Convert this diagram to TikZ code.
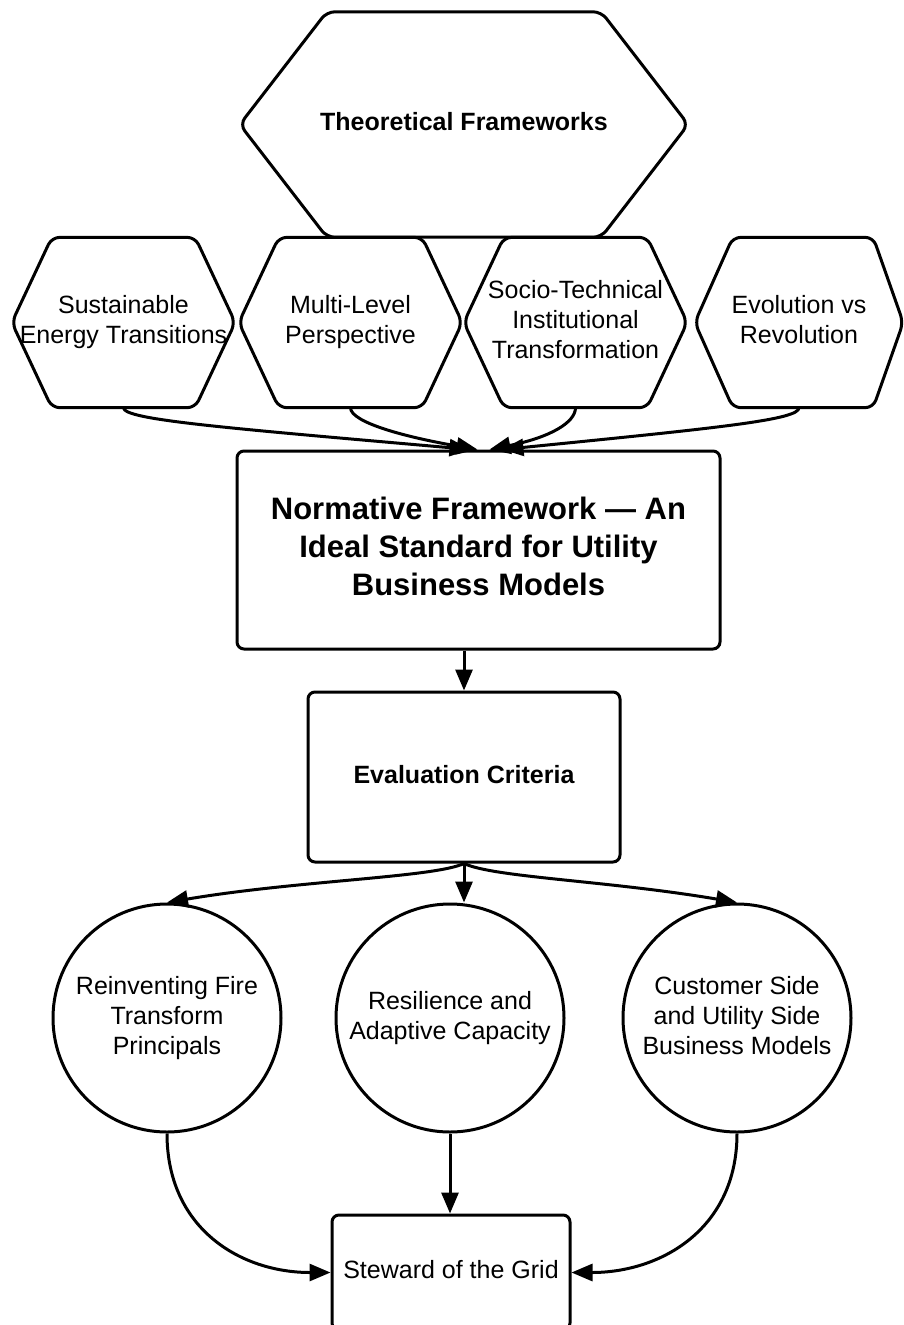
\documentclass[tikz,border=0pt]{standalone}
\usepackage{fontspec}
\setmainfont{Liberation Sans}
\usetikzlibrary{arrows.meta}
\newcommand\uptext[2]{\raisebox{#1}{\begin{tabular}{@{}c@{}}#2\end{tabular}}}
\tikzset{
  lw/.style={line width=3pt},
  txt/.style={font=\fontsize{25}{30}\selectfont, inner sep=0pt},
  hexnode/.style={txt, draw=none, minimum width=223pt, minimum height=170pt},
  box/.style={txt, draw, lw, rounded corners=7pt},
  circ/.style={txt, draw, lw, circle, minimum size=228pt},
  hexline/.style={draw, lw, rounded corners=8pt, line join=round},
  conn/.style={draw, lw, -{Triangle[length=21pt,width=17pt]}},
}
\newcommand\hexdraw[3]{\path[hexline] (#1.north) -- ([xshift=-#3]#1.north east) -- (#1.east) -- ([xshift=-#3]#1.south east) -- ([xshift=#2]#1.south west) -- (#1.west) -- ([xshift=#2]#1.north west) -- cycle;}
\begin{document}
\begin{tikzpicture}[x=1pt, y=-1pt]
\useasboundingbox (0,0) rectangle (903,1325);
% top hexagon
\node[hexnode, minimum width=448pt, minimum height=225pt, font=\fontsize{25}{30}\selectfont\bfseries] (tf) at (464,124.5) {\uptext{3pt}{Theoretical Frameworks}};
\hexdraw{tf}{87pt}{87pt}
% small hexagons
\node[hexnode] (h1) at (123.5,322.5) {\uptext{0pt}{Sustainable\\Energy Transitions}};
\node[hexnode] (h2) at (350.5,322.5) {\uptext{0pt}{Multi-Level\\Perspective}};
\node[hexnode] (h3) at (575.5,322.5) {\uptext{2pt}{Socio-Technical\\Institutional\\Transformation}};
\node[hexnode, minimum width=208pt] (h4) at (799,322.5) {\uptext{2pt}{Evolution vs\\Revolution}};
\hexdraw{h1}{40pt}{40pt}
\hexdraw{h2}{40pt}{40pt}
\hexdraw{h3}{40pt}{40pt}
\hexdraw{h4}{38pt}{30pt}
% boxes
\node[box, minimum width=483pt, minimum height=198pt, font=\fontsize{31}{38}\selectfont\bfseries] (norm) at (478.5,550) {\uptext{5pt}{Normative Framework --- An\\Ideal Standard for Utility\\Business Models}};
\node[box, minimum width=312pt, minimum height=170pt, font=\fontsize{25}{30}\selectfont\bfseries] (eval) at (464,777) {\uptext{4pt}{Evaluation Criteria}};
% circles
\node[circ] (c1) at (167,1018) {\uptext{3pt}{Reinventing Fire\\Transform\\Principals}};
\node[circ] (c2) at (450,1018) {\uptext{3pt}{Resilience and\\Adaptive Capacity}};
\node[circ] (c3) at (737,1018) {\uptext{3pt}{Customer Side\\and Utility Side\\Business Models}};
% steward
\node[box, minimum width=238pt, minimum height=115pt] (st) at (451,1272.5) {\uptext{4pt}{Steward of the Grid}};
% connectors: hexagons to normative
\coordinate (n1) at ([xshift=-8pt]norm.north);
\coordinate (n2) at ([xshift=-1pt]norm.north);
\coordinate (n3) at ([xshift=11pt]norm.north);
\coordinate (n4) at ([xshift=24pt]norm.north);
\draw[conn] (h1.south) .. controls +(0,12) and +(-250,-22) .. (n1);
\draw[conn] (h2.south) .. controls +(0,15) and +(-70,-12) .. (n2);
\draw[conn] (h3.south) .. controls +(0,15) and +(60,-12) .. (n3);
\draw[conn] (h4.south) .. controls +(0,12) and +(220,-22) .. (n4);
% normative to evaluation
\draw[conn] (eval.north |- norm.south) -- (eval.north);
% evaluation to circles
\draw[conn] (eval.south) .. controls +(-30,14) and +(130,-22) .. (c1.north);
\draw[conn] (eval.south) -- (eval.south |- c2.north);
\draw[conn] (eval.south) .. controls +(30,14) and +(-130,-22) .. (c3.north);
% circles to steward
\draw[conn] (c1.south) .. controls +(0,95) and +(-90,0) .. (st.west);
\draw[conn] (c2.south) -- (c2.south |- st.north);
\draw[conn] (c3.south) .. controls +(0,95) and +(90,0) .. (st.east);
\end{tikzpicture}
\end{document}
